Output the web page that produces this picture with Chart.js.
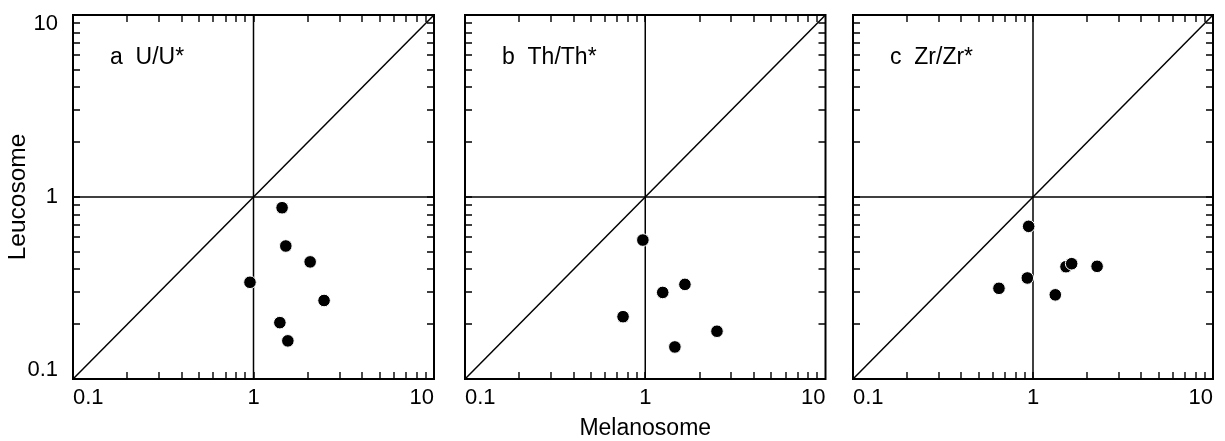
<!DOCTYPE html>
<html>
<head>
<meta charset="utf-8">
<script src="https://cdn.jsdelivr.net/npm/chart.js@4.4.0/dist/chart.umd.min.js"></script>
<style>
    body { margin: 0; background: #fff; }
    #wrap { position: relative; width: 1225px; height: 441px; overflow: hidden; }
    #wrap canvas { position: absolute; top: 0; }
</style>
</head>
<body>
<div id="wrap">
    <canvas id="chartA" width="449" height="441" style="left:0px"></canvas>
    <canvas id="chartB" width="390" height="441" style="left:449px"></canvas>
    <canvas id="chartC" width="386" height="441" style="left:839px"></canvas>
</div>
<script>
// ===== data =====
const axisMin = 0.1;
const axisMax = 10;
const tickGrid = [0.1, 0.2, 0.3, 0.4, 0.5, 0.6, 0.7, 0.8, 0.9, 1, 2, 3, 4, 5, 6, 7, 8, 9, 10];
const majorTicks = [0.1, 1, 10];
const majorLabels = ['0.1', '1', '10'];
const panelLabels = ['a  U/U*', 'b  Th/Th*', 'c  Zr/Zr*'];

// a: U/U*
const uMelanosome = [1.44, 1.51, 2.06, 0.956, 2.46, 1.40, 1.55];
const uLeucosome  = [0.873, 0.538, 0.44, 0.34, 0.27, 0.204, 0.162];
// b: Th/Th*
const thMelanosome = [0.97, 1.25, 1.66, 0.753, 2.50, 1.46];
const thLeucosome  = [0.58, 0.299, 0.331, 0.22, 0.183, 0.15];
// c: Zr/Zr*
const zrMelanosome = [0.946, 0.93, 0.647, 1.33, 1.525, 1.64, 2.27];
const zrLeucosome  = [0.69, 0.359, 0.315, 0.29, 0.414, 0.43, 0.416];

Chart.defaults.font.family = '"Liberation Sans", Arial, Helvetica, sans-serif';
Chart.defaults.color = '#000';

function majorIndex(v) {
    return majorTicks.findIndex(m => Math.abs(Math.log10(v) - Math.log10(m)) < 1e-6);
}

// frame, inward ticks on all four sides, panel label
const frameTicks = {
    id: 'frameTicks',
    afterDraw(chart, args, opts) {
        const {ctx, chartArea: a, scales: {x, y}} = chart;
        const len = 7;
        ctx.save();
        ctx.strokeStyle = '#000';
        ctx.lineWidth = 1.4;
        ctx.beginPath();
        x.ticks.forEach(t => {
            if (t.value <= axisMin || t.value >= axisMax) return;
            const px = Math.round(x.getPixelForValue(t.value));
            ctx.moveTo(px, a.bottom); ctx.lineTo(px, a.bottom - len);
            ctx.moveTo(px, a.top); ctx.lineTo(px, a.top + len);
        });
        y.ticks.forEach(t => {
            if (t.value <= axisMin || t.value >= axisMax) return;
            const py = Math.round(y.getPixelForValue(t.value));
            ctx.moveTo(a.left, py); ctx.lineTo(a.left + len, py);
            ctx.moveTo(a.right, py); ctx.lineTo(a.right - len, py);
        });
        ctx.stroke();
        ctx.lineWidth = 2;
        ctx.strokeRect(a.left, a.top, a.right - a.left, a.bottom - a.top);

        ctx.fillStyle = '#000';
        ctx.font = '23px "Liberation Sans", Arial, sans-serif';
        ctx.textBaseline = 'alphabetic';
        ctx.textAlign = 'left';
        ctx.fillText(opts.label, a.left + 37, 64);
        ctx.restore();
    }
};

function points(xs, ys) {
    return xs.map((v, i) => ({x: v, y: ys[i]}));
}

function refLine(p0, p1) {
    return {
        data: [p0, p1],
        showLine: true,
        borderColor: '#000',
        borderWidth: 1.5,
        pointRadius: 0,
        order: 2
    };
}

function makeChart(id, idx, xs, ys, cfg) {
    const ctx = document.getElementById(id).getContext('2d');
    return new Chart(ctx, {
        type: 'scatter',
        data: {
            datasets: [
                {
                    data: points(xs, ys),
                    backgroundColor: '#000',
                    borderColor: '#fff',
                    borderWidth: 1,
                    pointRadius: 6.3,
                    order: 0
                },
                refLine({x: axisMin, y: axisMin}, {x: axisMax, y: axisMax}),
                refLine({x: 1, y: axisMin}, {x: 1, y: axisMax}),
                refLine({x: axisMin, y: 1}, {x: axisMax, y: 1})
            ]
        },
        options: {
            responsive: false,
            animation: false,
            events: [],
            layout: { padding: {left: 0, right: cfg.right, top: 15, bottom: 0} },
            plugins: {
                legend: { display: false },
                tooltip: { enabled: false },
                frameTicks: { label: panelLabels[idx] }
            },
            scales: {
                x: {
                    type: 'logarithmic',
                    min: axisMin,
                    max: axisMax,
                    grid: { display: false, drawTicks: false },
                    border: { display: false },
                    afterBuildTicks: s => { s.ticks = tickGrid.map(v => ({value: v})); },
                    ticks: {
                        autoSkip: false,
                        maxRotation: 0,
                        align: 'inner',
                        padding: 6,
                        font: { size: 22 },
                        callback: v => {
                            const k = majorIndex(v);
                            return k < 0 ? '' : majorLabels[k];
                        }
                    },
                    title: {
                        display: !!cfg.xTitle,
                        text: 'Melanosome',
                        font: { size: 23, lineHeight: 1.1 },
                        padding: {top: 0, bottom: 0}
                    },
                    afterFit: s => { s.height = 62; s.paddingLeft = 0; s.paddingRight = 0; }
                },
                y: {
                    type: 'logarithmic',
                    min: axisMin,
                    max: axisMax,
                    grid: { display: false, drawTicks: false },
                    border: { display: false },
                    afterBuildTicks: s => { s.ticks = tickGrid.map(v => ({value: v})); },
                    ticks: {
                        autoSkip: false,
                        padding: 15,
                        font: { size: 22, lineHeight: 0.82 },
                        callback: v => {
                            if (!cfg.yLabels) return '';
                            const k = majorIndex(v);
                            if (k < 0) return '';
                            // push the end labels inward, as in the figure
                            if (k === majorTicks.length - 1) return ['', majorLabels[k]];
                            if (k === 0) return [majorLabels[k], ''];
                            return majorLabels[k];
                        }
                    },
                    title: {
                        display: !!cfg.yTitle,
                        text: 'Leucosome',
                        font: { size: 24.5 },
                        padding: {top: 4, bottom: 0}
                    },
                    afterFit: s => { s.width = cfg.yWidth; s.paddingTop = 0; s.paddingBottom = 0; }
                }
            }
        },
        plugins: [frameTicks]
    });
}

makeChart('chartA', 0, uMelanosome, uLeucosome, {right: 15, yWidth: 73, yLabels: true, yTitle: true});
makeChart('chartB', 1, thMelanosome, thLeucosome, {right: 13.5, yWidth: 16, xTitle: true});
makeChart('chartC', 2, zrMelanosome, zrLeucosome, {right: 12, yWidth: 14});
</script>
</body>
</html>
